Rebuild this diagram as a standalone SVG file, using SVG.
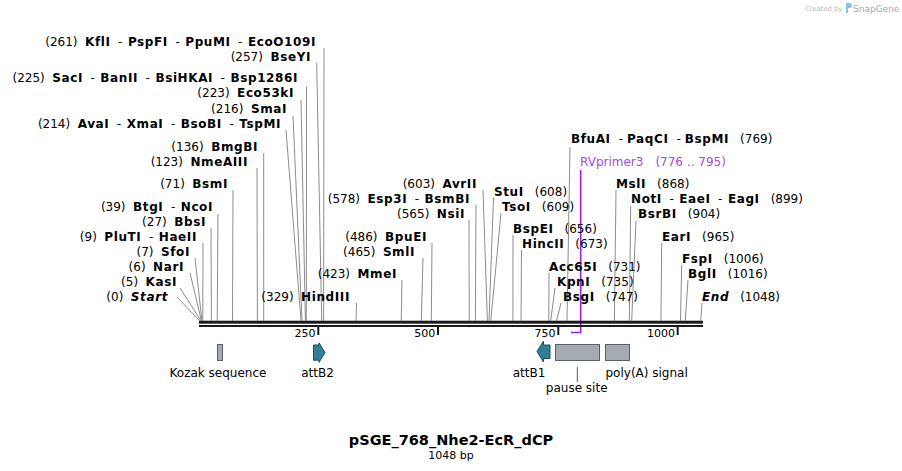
<svg xmlns="http://www.w3.org/2000/svg" width="902" height="471" viewBox="0 0 902 471">
<style>
text{font-family:"DejaVu Sans",Verdana,sans-serif;font-size:12px;fill:#000}
.b{font-weight:bold;letter-spacing:0.6px}
.bi{font-weight:bold;font-style:italic;letter-spacing:0.6px}
.l line{stroke:#8c8c8c;stroke-width:1;fill:none}
.tk{stroke:#1a1a1a;stroke-width:2}
.tl{font-size:11px;text-anchor:end}
.fl{text-anchor:middle}
.misc{fill:#a6abb2;stroke:#5b6067;stroke-width:1}
.att{fill:#2f7f99;stroke:#1d4e5e;stroke-width:1}
.pr{fill:#a646f2}
</style>
<rect width="902" height="471" fill="#fff"/>
<g id="watermark">
<text x="805" y="11" style="font-size:6.8px;fill:#b8b8b8">Created by</text>
<path d="M846 3h3.5a2.5 2.5 0 0 1 0 5h-1.5v5h-2z" fill="#8cc3ea"/>
<text x="853" y="12" style="font-size:9px;fill:#a3a8ad">SnapGene</text>
</g>
<g id="connectors" class="l">
<line x1="324" y1="48" x2="323.6" y2="320.7"/>
<line x1="316.7" y1="63" x2="321.7" y2="320.7"/>
<line x1="306.5" y1="87" x2="306.3" y2="320.7"/>
<line x1="301" y1="100" x2="305.4" y2="320.7"/>
<line x1="293" y1="116" x2="302" y2="320.7"/>
<line x1="286" y1="130" x2="301" y2="320.7"/>
<line x1="263.7" y1="153" x2="263.7" y2="320.7"/>
<line x1="257" y1="168" x2="257.4" y2="320.7"/>
<line x1="233" y1="190" x2="232.5" y2="320.7"/>
<line x1="218" y1="214" x2="217.2" y2="320.7"/>
<line x1="211" y1="228" x2="211.4" y2="320.7"/>
<line x1="203" y1="243" x2="202.8" y2="320.7"/>
<line x1="195" y1="258" x2="201.9" y2="320.7"/>
<line x1="190" y1="273" x2="201.4" y2="320.7"/>
<line x1="180" y1="288" x2="200.9" y2="320.7"/>
<line x1="177" y1="297" x2="199.5" y2="320.7"/>
<line x1="356.5" y1="303" x2="356.1" y2="320.7"/>
<line x1="402" y1="280" x2="401.2" y2="320.7"/>
<line x1="423" y1="258" x2="421.3" y2="320.7"/>
<line x1="432" y1="243" x2="431.3" y2="320.7"/>
<line x1="469" y1="220" x2="469.2" y2="320.7"/>
<line x1="476" y1="205" x2="475.4" y2="320.7"/>
<line x1="483" y1="190" x2="487.4" y2="320.7"/>
<line x1="493.5" y1="198" x2="489" y2="320.7"/>
<line x1="501" y1="213" x2="490.8" y2="320.7"/>
<line x1="513" y1="235" x2="512.9" y2="320.7"/>
<line x1="521.5" y1="250" x2="521" y2="320.7"/>
<line x1="549" y1="273" x2="548.8" y2="320.7"/>
<line x1="555" y1="288" x2="550.7" y2="320.7"/>
<line x1="561" y1="303" x2="556.5" y2="320.7"/>
<line x1="570" y1="147" x2="567" y2="320.7"/>
<line x1="616" y1="190" x2="614.4" y2="320.7"/>
<line x1="630.7" y1="206" x2="629.3" y2="320.7"/>
<line x1="636" y1="221" x2="631.7" y2="320.7"/>
<line x1="661.7" y1="243" x2="660.9" y2="320.7"/>
<line x1="681.7" y1="265" x2="680.5" y2="320.7"/>
<line x1="688" y1="280" x2="685.3" y2="320.7"/>
<line x1="702" y1="303" x2="700.7" y2="320.7"/>
<path d="M580.7 170V332.5M571 332.5H581.4" stroke="#a020f0" stroke-width="1.6" fill="none"/>
</g>
<g id="backbone">
<rect x="199" y="320.7" width="504" height="3" fill="#1a1a1a"/>
<rect x="199" y="325" width="504" height="2" fill="#1a1a1a"/>
<line class="tk" x1="318.3" y1="327" x2="318.3" y2="335"/>
<line class="tk" x1="438" y1="327" x2="438" y2="335"/>
<line class="tk" x1="558.3" y1="327" x2="558.3" y2="335"/>
<line class="tk" x1="677.7" y1="327" x2="677.7" y2="335"/>
<text class="tl" x="315.5" y="336.5">250</text>
<text class="tl" x="435.2" y="336.5">500</text>
<text class="tl" x="555.5" y="336.5">750</text>
<text class="tl" x="675" y="336.5">1000</text>
</g>
<g id="site-261"><text x="316" y="46" text-anchor="end">(261)<tspan class="b" dx="7.5">KflI</tspan><tspan dx="7.5">-</tspan><tspan class="b" dx="5.5">PspFI</tspan><tspan dx="7.5">-</tspan><tspan class="b" dx="5.5">PpuMI</tspan><tspan dx="7.5">-</tspan><tspan class="b" dx="5.5">EcoO109I</tspan></text></g>
<g id="site-257"><text x="311" y="61" text-anchor="end">(257)<tspan class="b" dx="7.5">BseYI</tspan></text></g>
<g id="site-225"><text x="298" y="82" text-anchor="end">(225)<tspan class="b" dx="7.5">SacI</tspan><tspan dx="7.5">-</tspan><tspan class="b" dx="5.5">BanII</tspan><tspan dx="7.5">-</tspan><tspan class="b" dx="5.5">BsiHKAI</tspan><tspan dx="7.5">-</tspan><tspan class="b" dx="5.5">Bsp1286I</tspan></text></g>
<g id="site-223"><text x="294" y="97" text-anchor="end">(223)<tspan class="b" dx="7.5">Eco53kI</tspan></text></g>
<g id="site-216"><text x="287" y="113" text-anchor="end">(216)<tspan class="b" dx="7.5">SmaI</tspan></text></g>
<g id="site-214"><text x="281" y="128" text-anchor="end">(214)<tspan class="b" dx="7.5">AvaI</tspan><tspan dx="7.5">-</tspan><tspan class="b" dx="5.5">XmaI</tspan><tspan dx="7.5">-</tspan><tspan class="b" dx="5.5">BsoBI</tspan><tspan dx="7.5">-</tspan><tspan class="b" dx="5.5">TspMI</tspan></text></g>
<g id="site-136"><text x="258" y="151" text-anchor="end">(136)<tspan class="b" dx="7.5">BmgBI</tspan></text></g>
<g id="site-123"><text x="248" y="166" text-anchor="end">(123)<tspan class="b" dx="7.5">NmeAIII</tspan></text></g>
<g id="site-71"><text x="228" y="188" text-anchor="end">(71)<tspan class="b" dx="7.5">BsmI</tspan></text></g>
<g id="site-39"><text x="213" y="211" text-anchor="end">(39)<tspan class="b" dx="7.5">BtgI</tspan><tspan dx="7.5">-</tspan><tspan class="b" dx="5.5">NcoI</tspan></text></g>
<g id="site-27"><text x="206" y="226" text-anchor="end">(27)<tspan class="b" dx="7.5">BbsI</tspan></text></g>
<g id="site-9"><text x="197" y="241" text-anchor="end">(9)<tspan class="b" dx="7.5">PluTI</tspan><tspan dx="7.5">-</tspan><tspan class="b" dx="5.5">HaeII</tspan></text></g>
<g id="site-7"><text x="190" y="256" text-anchor="end">(7)<tspan class="b" dx="7.5">SfoI</tspan></text></g>
<g id="site-6"><text x="184" y="271" text-anchor="end">(6)<tspan class="b" dx="7.5">NarI</tspan></text></g>
<g id="site-5"><text x="177" y="286" text-anchor="end">(5)<tspan class="b" dx="7.5">KasI</tspan></text></g>
<g id="site-0"><text x="168" y="301" text-anchor="end">(0)<tspan class="bi" dx="7.5">Start</tspan></text></g>
<g id="site-329"><text x="350" y="301" text-anchor="end">(329)<tspan class="b" dx="7.5">HindIII</tspan></text></g>
<g id="site-423"><text x="397" y="278" text-anchor="end">(423)<tspan class="b" dx="7.5">MmeI</tspan></text></g>
<g id="site-465"><text x="415" y="256" text-anchor="end">(465)<tspan class="b" dx="7.5">SmlI</tspan></text></g>
<g id="site-486"><text x="427" y="241" text-anchor="end">(486)<tspan class="b" dx="7.5">BpuEI</tspan></text></g>
<g id="site-565"><text x="465" y="218" text-anchor="end">(565)<tspan class="b" dx="7.5">NsiI</tspan></text></g>
<g id="site-578"><text x="470" y="203" text-anchor="end">(578)<tspan class="b" dx="7.5">Esp3I</tspan><tspan dx="7.5">-</tspan><tspan class="b" dx="5.5">BsmBI</tspan></text></g>
<g id="site-603"><text x="477" y="188" text-anchor="end">(603)<tspan class="b" dx="7.5">AvrII</tspan></text></g>
<g id="site-608"><text x="494" y="196"><tspan class="b">StuI</tspan><tspan dx="11">(608)</tspan></text></g>
<g id="site-609"><text x="502" y="211"><tspan class="b">TsoI</tspan><tspan dx="11">(609)</tspan></text></g>
<g id="site-656"><text x="513" y="233"><tspan class="b">BspEI</tspan><tspan dx="11">(656)</tspan></text></g>
<g id="site-673"><text x="522" y="248"><tspan class="b">HincII</tspan><tspan dx="11">(673)</tspan></text></g>
<g id="site-731"><text x="549" y="271"><tspan class="b">Acc65I</tspan><tspan dx="11">(731)</tspan></text></g>
<g id="site-735"><text x="557" y="286"><tspan class="b">KpnI</tspan><tspan dx="11">(735)</tspan></text></g>
<g id="site-747"><text x="563" y="301"><tspan class="b">BsgI</tspan><tspan dx="11">(747)</tspan></text></g>
<g id="site-769"><text x="571" y="143"><tspan class="b">BfuAI</tspan><tspan dx="8">-</tspan><tspan class="b" dx="4">PaqCI</tspan><tspan dx="8">-</tspan><tspan class="b" dx="4">BspMI</tspan><tspan dx="11">(769)</tspan></text></g>
<g id="primer-RVprimer3"><text class="pr" x="580" y="166">RVprimer3<tspan class="pr" dx="12">(776 .. 795)</tspan></text></g>
<g id="site-868"><text x="616" y="188"><tspan class="b">MslI</tspan><tspan dx="11">(868)</tspan></text></g>
<g id="site-899"><text x="631" y="203"><tspan class="b">NotI</tspan><tspan dx="7.5">-</tspan><tspan class="b" dx="5.5">EaeI</tspan><tspan dx="7.5">-</tspan><tspan class="b" dx="5.5">EagI</tspan><tspan dx="11">(899)</tspan></text></g>
<g id="site-904"><text x="638" y="218"><tspan class="b">BsrBI</tspan><tspan dx="11">(904)</tspan></text></g>
<g id="site-965"><text x="662" y="241"><tspan class="b">EarI</tspan><tspan dx="11">(965)</tspan></text></g>
<g id="site-1006"><text x="682" y="263"><tspan class="b">FspI</tspan><tspan dx="11">(1006)</tspan></text></g>
<g id="site-1016"><text x="688" y="278"><tspan class="b">BglI</tspan><tspan dx="11">(1016)</tspan></text></g>
<g id="site-1048"><text x="702" y="301"><tspan class="bi">End</tspan><tspan dx="11">(1048)</tspan></text></g>
<g id="feature-kozak">
<rect class="misc" x="217.5" y="344.5" width="5" height="16"/>
<text class="fl" x="218" y="377">Kozak sequence</text>
</g>
<g id="feature-attB2">
<path class="att" d="M313.5 345H319V342.8L325 352.6L319 362.4V360.2H313.5Z"/>
<text class="fl" x="317.5" y="377">attB2</text>
</g>
<g id="feature-attB1">
<path class="att" d="M550 345H543.5V341L537 351.5L543.5 362V358.5H550Z"/>
<text class="fl" x="529" y="377">attB1</text>
</g>
<g id="feature-pause">
<rect class="misc" x="555.5" y="344.5" width="44" height="16"/>
<line x1="577.3" y1="367" x2="577.3" y2="382" stroke="#5b6067" stroke-width="1"/>
<text class="fl" x="576.7" y="392">pause site</text>
</g>
<g id="feature-polyA">
<rect class="misc" x="605.5" y="344.5" width="24" height="16"/>
<text x="605.5" y="377">poly(A) signal</text>
</g>
<g id="title">
<text x="451" y="445" text-anchor="middle" style="font-weight:bold;font-size:14.5px">pSGE_768_Nhe2-EcR_dCP</text>
<text x="451" y="459" text-anchor="middle" style="font-size:11px">1048 bp</text>
</g>
</svg>
